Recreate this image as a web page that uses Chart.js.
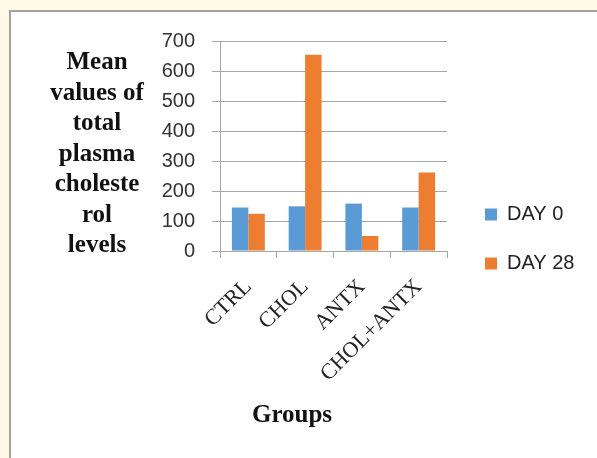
<!DOCTYPE html>
<html>
<head>
<meta charset="utf-8">
<script src="https://cdn.jsdelivr.net/npm/chart.js@4"></script>
<style>
    body { margin: 0; background: #fff9e5; overflow: hidden; }
    .box {
        position: absolute;
        left: 9px;
        top: 10px;
        width: 700px;
        height: 600px;
        background: #fff;
        border-top: 2px solid #a3a3a3;
        border-left: 2px solid #a3a3a3;
    }
    #chart { display: block; }
</style>
</head>
<body>
<div class="box">
    <canvas id="chart" width="586" height="446"></canvas>
</div>
<script>
const groups = ['CTRL', 'CHOL', 'ANTX', 'CHOL+ANTX'];
const day0 = [145, 149, 158, 145];
const day28 = [124, 654, 50, 262];
const yTicks = [0, 100, 200, 300, 400, 500, 600, 700];
const yTitle = ['Mean', 'values of', 'total', 'plasma', 'choleste', 'rol', 'levels'];
const xTitle = 'Groups';

const gridColor = '#a6a6a6';

// titres dessinés à la main (le titre Y d'Excel est horizontal)
const titlesPlugin = {
    id: 'titles',
    beforeInit(chart) {
        // largeur fixe pour la légende
        const fit = chart.legend.fit;
        chart.legend.fit = function () {
            fit.call(this);
            this.width = 150;
        };
    },
    afterLayout(chart) {
        // décale la légende comme dans Excel
        chart.legend.left += 9;
        chart.legend.right += 9;
        chart.legend.top -= 10;
        chart.legend.bottom -= 10;
    },
    afterDraw(chart) {
        const ctx = chart.ctx;
        const area = chart.chartArea;
        ctx.save();
        ctx.fillStyle = '#111';
        ctx.font = 'bold 25px "Liberation Serif"';
        ctx.textAlign = 'center';
        ctx.textBaseline = 'middle';
        yTitle.forEach((line, i) => {
            ctx.fillText(line, 86, area.top + 22 + i * 30.5);
        });
        ctx.fillText(xTitle, area.left + 72, area.bottom + 165);
        ctx.restore();
    }
};

const ctx = document.getElementById('chart');

new Chart(ctx, {
    type: 'bar',
    data: {
        labels: groups,
        datasets: [{
            label: 'DAY 0',
            data: day0,
            backgroundColor: '#5b9bd5'
        }, {
            label: 'DAY 28',
            data: day28,
            backgroundColor: '#ed7d31'
        }]
    },
    options: {
        responsive: false,
        animation: false,
        categoryPercentage: 0.58,
        barPercentage: 1,
        layout: {
            padding: { left: 151, top: 28, right: 0, bottom: 0 }
        },
        plugins: {
            legend: {
                position: 'right',
                labels: {
                    boxWidth: 12,
                    boxHeight: 12,
                    padding: 29,
                    color: '#222',
                    font: { family: '"Liberation Sans"', size: 20 }
                }
            },
            tooltip: { enabled: false }
        },
        scales: {
            x: {
                afterFit: (scale) => { scale.height = 207; },
                grid: {
                    drawOnChartArea: false,
                    tickLength: 7,
                    color: gridColor
                },
                border: { color: gridColor },
                ticks: {
                    minRotation: 45,
                    maxRotation: 45,
                    padding: 16,
                    color: '#222',
                    font: { family: '"Liberation Serif"', size: 22 }
                }
            },
            y: {
                min: 0,
                max: 700,
                afterFit: (scale) => { scale.width = 58; },
                afterBuildTicks: (scale) => {
                    scale.ticks = yTicks.map(v => ({ value: v }));
                },
                grid: {
                    tickLength: 8,
                    color: gridColor
                },
                border: { color: gridColor },
                ticks: {
                    padding: 17,
                    color: '#333',
                    font: { family: '"Liberation Sans"', size: 20 }
                }
            }
        }
    },
    plugins: [titlesPlugin]
});
</script>
</body>
</html>
